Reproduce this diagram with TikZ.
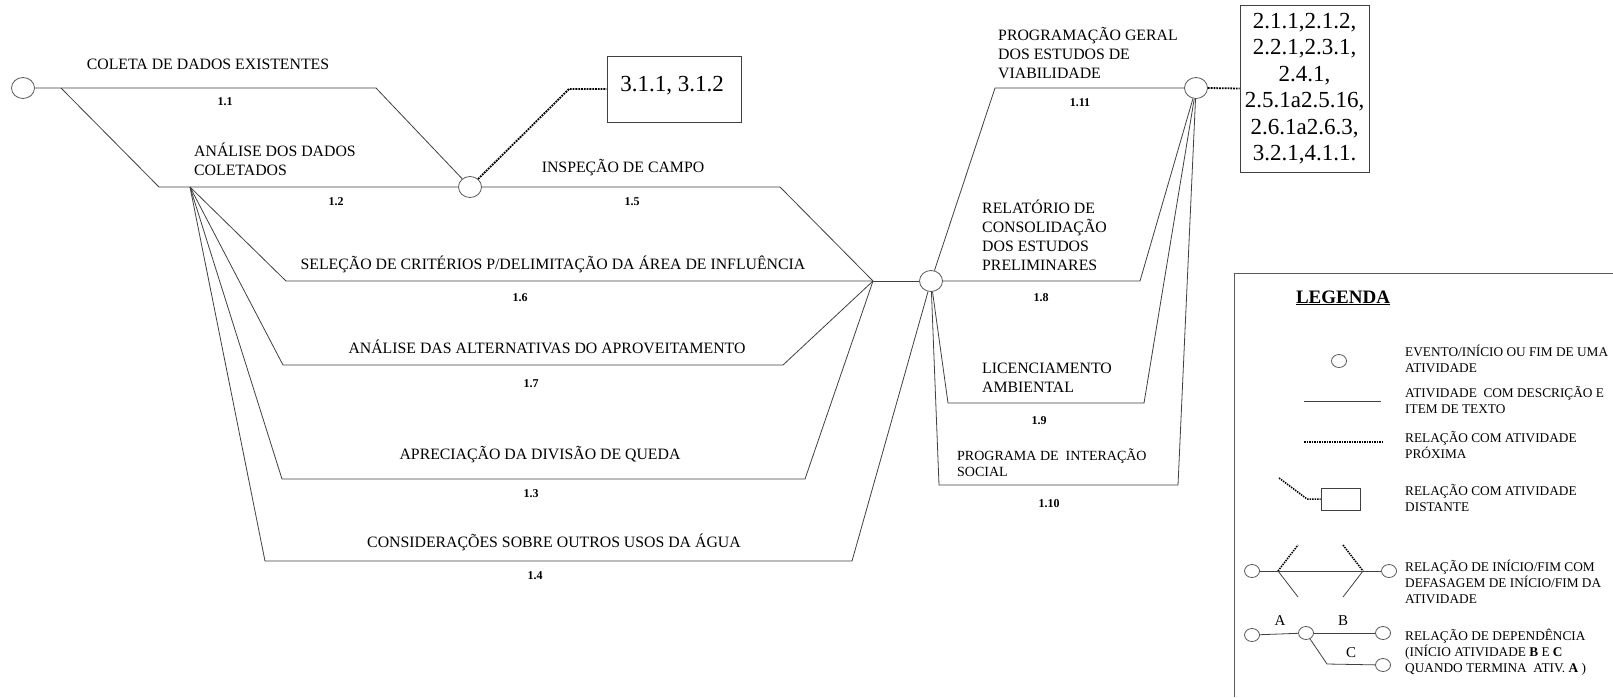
\documentclass[tikz,border=0pt]{standalone}
\usepackage{fontspec}
\setmainfont{Liberation Serif}
\usetikzlibrary{shapes.geometric}
\begin{document}
\begin{tikzpicture}[x=1pt,y=-1pt,
  ln/.style={draw=black!75, line width=0.8pt},
  dots/.style={draw=black, line width=1.8pt, densely dotted},
  ldots/.style={draw=black, line width=1.5pt, densely dotted},
  ev/.style={ellipse, draw=black!65, line width=0.8pt, fill=white, minimum width=23pt, minimum height=21pt, inner sep=0pt},
  evs/.style={ellipse, draw=black!65, line width=0.8pt, fill=white, minimum width=15pt, minimum height=13pt, inner sep=0pt},
  lbl/.style={inner sep=0pt, font=\fontsize{15.8}{19}\selectfont},
  mlbl/.style={lbl, align=left, anchor=west},
  num/.style={inner sep=0pt, font=\fontsize{12}{14}\selectfont\bfseries},
  boxt/.style={inner sep=0pt, font=\fontsize{23}{26.5}\selectfont, align=center},
  leg/.style={inner sep=0pt, anchor=west, align=left, font=\fontsize{13.3}{16}\selectfont},
  abc/.style={inner sep=0pt, font=\fontsize{15}{17}\selectfont},
  frame/.style={draw=black!75, line width=0.8pt}
]
\useasboundingbox (0,0) rectangle (1613,697);

% events
\node[ev] (c1) at (23,88) {};
\node[ev] (c2) at (470,187) {};
\node[ev] (c3) at (931,281) {};
\node[ev] (c4) at (1196,88) {};
\coordinate (b1) at (61,88);
\coordinate (f) at (190,187);
\coordinate (j) at (873,281);

% activities
\draw[ln] (c1) -- (376,88) -- (c2);
\draw[ln] (b1) -- (159,187) -- (c2);
\draw[ln] (c2) -- (780,187) -- (j);
\draw[ln] (f) -- (286,281) -- (j);
\draw[ln] (f) -- (283,365) -- (783,365) -- (j);
\draw[ln] (f) -- (282,479) -- (805,479) -- (j);
\draw[ln] (f) -- (265,561) -- (852,561) -- (c3);
\draw[ln] (j) -- (c3);
\draw[ln] (c3) -- (995,88) -- (c4);
\draw[ln] (c3) -- (1140,281) -- (c4);
\draw[ln] (c3) -- (948,403) -- (1144,403) -- (c4);
\draw[ln] (c3) -- (939,485) -- (1178,485) -- (c4);

% boxes
\node[frame, minimum width=134pt, minimum height=66pt, inner sep=0pt] (bx1) at (674,89) {};
\node[boxt] (bx1t) at (672,86) {3.1.1, 3.1.2};
\draw[dots] (c2) -- (569,89) -- (bx1.west);

\node[frame, boxt, minimum width=129pt, minimum height=167pt] (bx2) at (1304.5,88.5)
  {2.1.1,2.1.2,\\2.2.1,2.3.1,\\2.4.1,\\2.5.1a2.5.16,\\2.6.1a2.6.3,\\3.2.1,4.1.1.};
\draw[dots] (c4.east) -- (bx2.west);

% labels
\node[lbl] (t11) at (208,64) {COLETA DE DADOS EXISTENTES};
\node[num] (n11) at (225,102) {1.1};
\node[mlbl] (t12) at (194,159) {ANÁLISE DOS DADOS\\COLETADOS};
\node[num] (n12) at (336,202) {1.2};
\node[lbl] (t15) at (623,168) {INSPEÇÃO DE CAMPO};
\node[num] (n15) at (632,202) {1.5};
\node[lbl] (t16) at (553,264) {SELEÇÃO DE CRITÉRIOS P/DELIMITAÇÃO DA ÁREA DE INFLUÊNCIA};
\node[num] (n16) at (520,298) {1.6};
\node[lbl] (t17) at (547,347) {ANÁLISE DAS ALTERNATIVAS DO APROVEITAMENTO};
\node[num] (n17) at (531,384) {1.7};
\node[lbl] (t13) at (540,455) {APRECIAÇÃO DA DIVISÃO DE QUEDA};
\node[num] (n13) at (531,494) {1.3};
\node[lbl] (t14) at (554,542) {CONSIDERAÇÕES SOBRE OUTROS USOS DA ÁGUA};
\node[num] (n14) at (535,576) {1.4};
\node[mlbl] (t111) at (998,53) {PROGRAMAÇÃO GERAL\\DOS ESTUDOS DE\\VIABILIDADE};
\node[num] (n111) at (1080,103) {1.11};
\node[mlbl] (t18) at (982,235) {RELATÓRIO DE\\CONSOLIDAÇÃO\\DOS ESTUDOS\\PRELIMINARES};
\node[num] (n18) at (1041,298) {1.8};
\node[mlbl] (t19) at (982,378) {LICENCIAMENTO\\AMBIENTAL};
\node[num] (n19) at (1039,421) {1.9};
\node[mlbl, font=\fontsize{14}{16}\selectfont] (t110) at (957,463) {PROGRAMA DE~ INTERAÇÃO\\SOCIAL};
\node[num] (n110) at (1049,504) {1.10};

% legend
\draw[draw=black!65, line width=1pt] (1613,273) -- (1234,273) -- (1234,697);
\node[inner sep=0pt, anchor=base, font=\fontsize{19}{22}\selectfont\bfseries] (legt) at (1343,303) {\underline{LEGENDA}};

\node[evs] (le) at (1339,361) {};
\node[leg] (l1) at (1405,359) {EVENTO/INÍCIO OU FIM DE UMA\\ATIVIDADE};

\coordinate (la1) at (1304,401);
\coordinate (la2) at (1381,401);
\draw[ln] (la1) -- (la2);
\node[leg] (l2) at (1405,400) {ATIVIDADE~ COM DESCRIÇÃO E\\ITEM DE TEXTO};

\coordinate (lp1) at (1304,442);
\coordinate (lp2) at (1382,442);
\draw[ldots] (lp1) -- (lp2);
\node[leg] (l3) at (1405,445) {RELAÇÃO COM ATIVIDADE\\PRÓXIMA};

\node[frame, minimum width=39pt, minimum height=22pt, inner sep=0pt] (ldr) at (1340.5,499) {};
\coordinate (ld1) at (1279,478);
\draw[ldots] (ld1) -- (1307,499) -- (ldr.west);
\node[leg] (l4) at (1405,498) {RELAÇÃO COM ATIVIDADE\\DISTANTE};

\node[evs] (g1) at (1252,571) {};
\node[evs] (g2) at (1389,571) {};
\coordinate (gs) at (1278,571);
\coordinate (ge) at (1363,571);
\draw[ln] (g1) -- (g2);
\draw[ldots] (gs) -- (1298,545);
\draw[ln] (gs) -- (1298,597);
\draw[ldots] (1343,545) -- (ge);
\draw[ln] (ge) -- (1343,597);
\node[leg] (l5) at (1405,582) {RELAÇÃO DE INÍCIO/FIM COM\\DEFASAGEM DE INÍCIO/FIM DA\\ATIVIDADE};

\node[evs] (d1) at (1252,635) {};
\node[evs] (d2) at (1306,633) {};
\node[evs] (d3) at (1383,633) {};
\node[evs] (d4) at (1383,665) {};
\draw[ln] (d1) -- (d2);
\draw[ln] (d2) -- (d3);
\draw[ln] (d2) -- (1327,664) -- (d4);
\node[abc] (la) at (1280,621) {A};
\node[abc] (lb) at (1343,621) {B};
\node[abc] (lc) at (1351,653) {C};
\node[leg] (l6) at (1405,652) {RELAÇÃO DE DEPENDÊNCIA\\(INÍCIO ATIVIDADE \textbf{B} E \textbf{C}\\QUANDO TERMINA~ ATIV. \textbf{A} )};
\end{tikzpicture}
\end{document}
